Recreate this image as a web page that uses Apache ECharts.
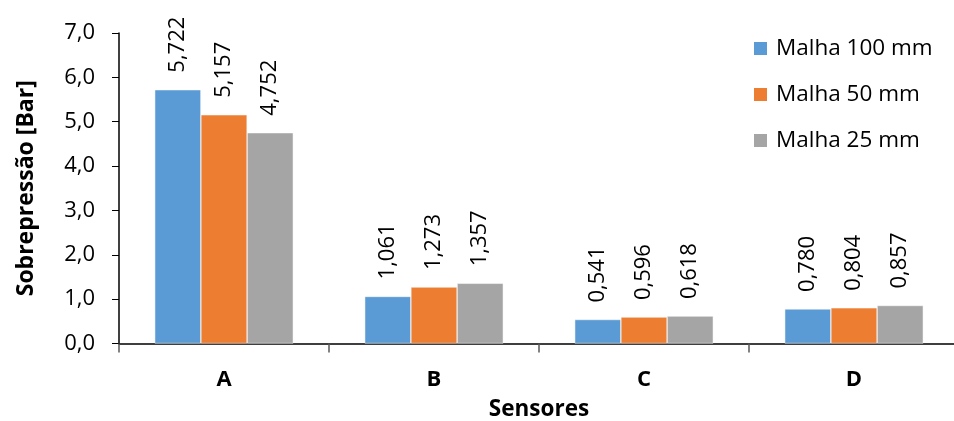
<!DOCTYPE html>
<html>
<head>
<meta charset="utf-8">
<script src="https://cdn.jsdelivr.net/npm/echarts@6/dist/echarts.min.js"></script>
<style>
  html, body { margin: 0; padding: 0; background: #fff; }
  #chart { width: 954px; height: 421px; }
</style>
</head>
<body>
<div id="chart"></div>
<script>
// Sensor categories and peak overpressure per mesh size
const sensores = ['A', 'B', 'C', 'D'];
const malha100 = [5.722, 1.061, 0.541, 0.780];
const malha50 = [5.157, 1.273, 0.596, 0.804];
const malha25 = [4.752, 1.357, 0.618, 0.857];
const seriesNames = ['Malha 100 mm', 'Malha 50 mm', 'Malha 25 mm'];
const seriesColors = ['#5B9BD5', '#ED7D31', '#A5A5A5'];

const FONT = '"Open Sans", Lato, sans-serif';
const comma = (v, d) => v.toFixed(d).replace('.', ',');

function makeSeries(name, data, color) {
  return {
    name: name,
    type: 'bar',
    data: data,
    barGap: '0%',
    barCategoryGap: '34%',
    itemStyle: { color: color, borderColor: '#ffffff', borderWidth: 0.5 },
    label: {
      show: true,
      position: 'top',
      rotate: 90,
      align: 'left',
      verticalAlign: 'middle',
      distance: 17,
      fontFamily: FONT,
      fontSize: 22,
      color: '#000',
      formatter: p => comma(p.value, 3)
    }
  };
}

const chart = echarts.init(document.getElementById('chart'));
chart.setOption({
  animation: false,
  backgroundColor: '#fff',
  grid: { left: 119, top: 33, width: 840, height: 310.5, outerBoundsMode: 'none', containLabel: false },
  legend: {
    orient: 'vertical',
    left: 752,
    top: 37,
    padding: 0,
    itemWidth: 15,
    itemHeight: 15,
    itemGap: 23,
    icon: 'rect',
    data: seriesNames,
    textStyle: { fontFamily: FONT, fontSize: 22.5, lineHeight: 23, color: '#000', padding: [0, 0, 0, 3] }
  },
  xAxis: {
    type: 'category',
    data: sensores,
    name: 'Sensores',
    nameLocation: 'middle',
    nameGap: 55,
    nameTextStyle: { fontFamily: FONT, fontSize: 22.5, fontWeight: 'bold', color: '#000' },
    axisLine: { lineStyle: { color: '#000', width: 1.5 } },
    axisTick: { show: true, length: 9, lineStyle: { color: '#595959', width: 1.5 } },
    axisLabel: { fontFamily: FONT, fontSize: 22, fontWeight: 'bold', color: '#000', margin: 25 }
  },
  yAxis: {
    type: 'value',
    min: 0,
    max: 7,
    interval: 1,
    name: 'Sobrepressão [Bar]',
    nameLocation: 'middle',
    nameGap: 81,
    nameTextStyle: { fontFamily: FONT, fontSize: 23, fontWeight: 'bold', color: '#000' },
    splitLine: { show: false },
    axisLine: { show: true, lineStyle: { color: '#000', width: 1.5 } },
    axisTick: { show: true, length: 7, lineStyle: { color: '#000', width: 1 } },
    axisLabel: { fontFamily: FONT, fontSize: 22, color: '#000', margin: 24, formatter: v => comma(v, 1) }
  },
  series: [
    makeSeries(seriesNames[0], malha100, seriesColors[0]),
    makeSeries(seriesNames[1], malha50, seriesColors[1]),
    makeSeries(seriesNames[2], malha25, seriesColors[2])
  ]
});
</script>
</body>
</html>
